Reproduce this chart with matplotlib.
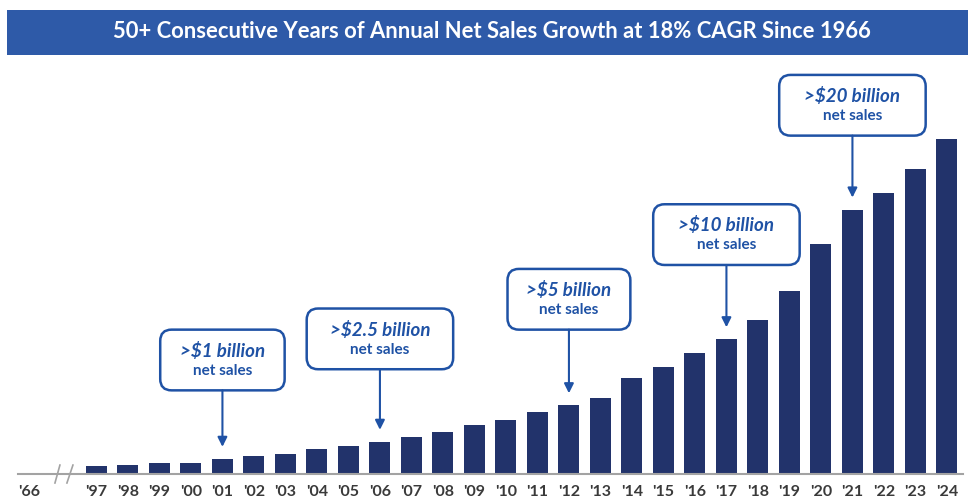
import matplotlib.pyplot as plt
from matplotlib.patches import Rectangle, FancyBboxPatch

# net sales by fiscal year, $ billions
years = ["'97", "'98", "'99", "'00", "'01", "'02", "'03", "'04", "'05", "'06",
         "'07", "'08", "'09", "'10", "'11", "'12", "'13", "'14", "'15", "'16",
         "'17", "'18", "'19", "'20", "'21", "'22", "'23", "'24"]
sales = [0.55, 0.66, 0.81, 0.83, 1.11, 1.34, 1.49, 1.82, 2.05, 2.40,
         2.75, 3.11, 3.64, 4.09, 4.67, 5.17, 5.73, 7.25, 8.05, 9.11,
         10.17, 11.61, 13.81, 17.42, 20.0, 21.29, 23.08, 25.33]

# milestones: year reached, headline
milestone_years = ["'01", "'06", "'12", "'17", "'21"]
milestone_labels = [">$1 billion", ">$2.5 billion", ">$5 billion", ">$10 billion", ">$20 billion"]

# callout layout (box bottom in $B, box width in bar slots)
box_bottom = [6.3, 7.9, 10.9, 15.8, 25.6]
box_width = [3.95, 4.65, 3.9, 4.65, 4.65]
box_height = 4.6

BAR = '#22336b'
BLUE = '#1f52a5'
BANNER = '#2e5aa8'
FONT = 'Lato'

fig = plt.figure(figsize=(9.68, 5.0), dpi=100)
fig.patch.set_facecolor('white')

# title banner
fig.patches.append(Rectangle((7/968, 445/500), 961/968, 45/500, transform=fig.transFigure,
                             facecolor=BANNER, edgecolor='none', zorder=0))
fig.text(0.508, 0.936, '50+ Consecutive Years of Annual Net Sales Growth at 18% CAGR Since 1966',
         color='white', fontsize=15.8, fontweight='bold', family=FONT, ha='center', va='center')

ax = fig.add_axes([18/968, 26.5/500, 945/968, 413.5/500])
x = list(range(len(years)))
ax.bar(x, sales, width=0.67, color=BAR, zorder=2)

ax.set_xlim(-2.49, len(years) - 0.49)
ax.set_ylim(0, 31.33)

for s in ['top', 'right', 'left']:
    ax.spines[s].set_visible(False)
ax.spines['bottom'].set_color('#a3a3a3')
ax.spines['bottom'].set_linewidth(1.5)
ax.set_yticks([])

ax.set_xticks([-2.14] + x)
ax.set_xticklabels(["'66"] + years, fontsize=11.5, fontweight='bold', family=FONT, color='#3a3a3a')
ax.tick_params(axis='x', length=0, pad=8)

# axis break between '66 and '97
for x0, x1 in [(-1.317, -1.159), (-0.937, -0.746)]:
    ax.plot([x0, x1], [-0.72, 0.64], color='#a3a3a3', lw=1.2, clip_on=False, zorder=3)

# keep rounded corners circular on the stretched axes
fig.canvas.draw()
bb = ax.get_window_extent()
px_x = bb.width / (ax.get_xlim()[1] - ax.get_xlim()[0])
px_y = bb.height / (ax.get_ylim()[1] - ax.get_ylim()[0])
aspect = px_x / px_y

for yr, label, yb, w in zip(milestone_years, milestone_labels, box_bottom, box_width):
    i = years.index(yr)
    top = yb + box_height
    box = FancyBboxPatch((i - w / 2, yb), w, box_height,
                         boxstyle='round,pad=0,rounding_size=0.36',
                         mutation_aspect=aspect, facecolor='white',
                         edgecolor=BLUE, lw=1.8, zorder=4)
    ax.add_patch(box)
    ax.text(i, top - 21 / px_y, label, ha='center', va='center', color=BLUE,
            fontsize=13.5, fontweight='bold', style='italic', family=FONT, zorder=5)
    ax.text(i, top - 41 / px_y, 'net sales', ha='center', va='center', color=BLUE,
            fontsize=11, fontweight='bold', family=FONT, zorder=5)
    ax.annotate('', xy=(i, sales[i] + 12 / px_y), xytext=(i, yb),
                arrowprops=dict(arrowstyle='-|>', color=BLUE, lw=1.5,
                                mutation_scale=14, shrinkA=0, shrinkB=0), zorder=4)

fig.savefig('out.png', dpi=100)
